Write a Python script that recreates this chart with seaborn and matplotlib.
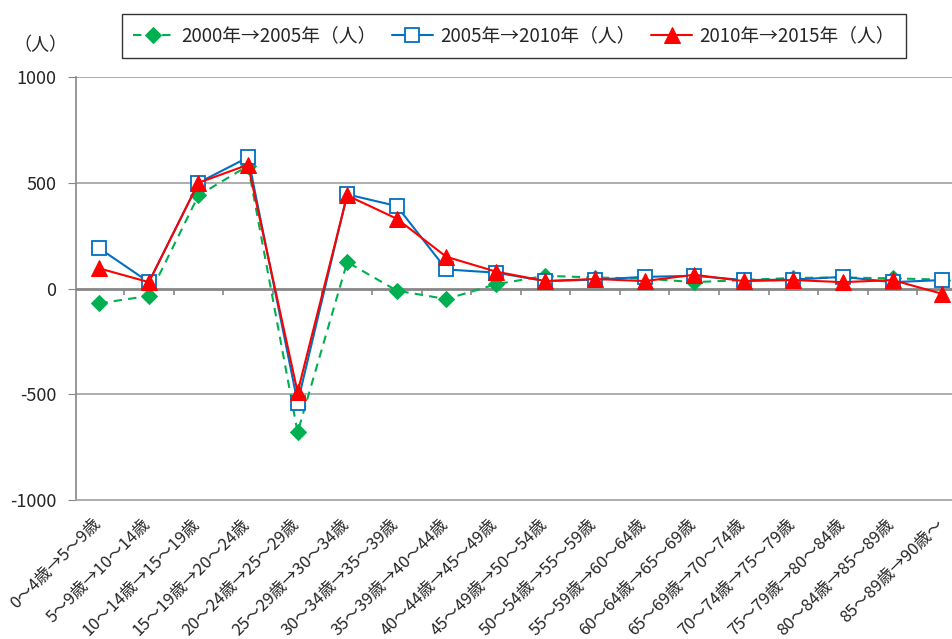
import numpy as np
import pandas as pd
import seaborn as sns
import matplotlib.pyplot as plt
from matplotlib.transforms import ScaledTranslation

categories = [
    "0～4歳→5～9歳", "5～9歳→10～14歳", "10～14歳→15～19歳", "15～19歳→20～24歳",
    "20～24歳→25～29歳", "25～29歳→30～34歳", "30～34歳→35～39歳", "35～39歳→40～44歳",
    "40～44歳→45～49歳", "45～49歳→50～54歳", "50～54歳→55～59歳", "55～59歳→60～64歳",
    "60～64歳→65～69歳", "65～69歳→70～74歳", "70～74歳→75～79歳", "75～79歳→80～84歳",
    "80～84歳→85～89歳", "85～89歳→90歳～",
]
v_2000_2005 = [-70, -35, 440, 580, -680, 125, -10, -50, 20, 60, 52, 47, 30, 40, 50, 52, 48, 42]
v_2005_2010 = [190, 30, 500, 620, -540, 445, 390, 90, 75, 35, 42, 55, 60, 40, 42, 55, 30, 40]
v_2010_2015 = [95, 30, 500, 585, -490, 440, 330, 150, 80, 35, 45, 35, 65, 35, 40, 30, 40, -25]
series_names = ["2000年→2005年（人）", "2005年→2010年（人）", "2010年→2015年（人）"]

sns.set_style("white")
plt.rcParams['font.family'] = ['Noto Sans CJK JP', 'DejaVu Sans']

fig = plt.figure(figsize=(9.52, 6.39), dpi=100)
ax = fig.add_axes([76 / 952, 1 - 500 / 639, 1 - 76 / 952, (500 - 77) / 639])

x = np.arange(len(categories))
df = pd.DataFrame({"x": x, "a": v_2000_2005, "b": v_2005_2010, "c": v_2010_2015})

sns.lineplot(data=df, x="x", y="a", ax=ax, color="#00B050", linestyle=(0, (4, 3)),
             linewidth=1.5, marker="D", markersize=8, markeredgecolor="#00B050",
             label=series_names[0])
sns.lineplot(data=df, x="x", y="b", ax=ax, color="#0070C0", linewidth=1.5,
             marker="s", markersize=10, markerfacecolor="white",
             markeredgecolor="#0070C0", markeredgewidth=1.3, label=series_names[1])
sns.lineplot(data=df, x="x", y="c", ax=ax, color="#FF0000", linewidth=1.5,
             marker="^", markersize=12, markeredgecolor="#FF0000", label=series_names[2])

ax.set_xlim(-0.47, 17.2)
ax.set_ylim(-1000, 1000)
ax.set_yticks([-1000, -500, 0, 500, 1000])
ax.set_yticklabels(["-1000", "-500", "0", "500", "1000"], fontsize=13)
ax.tick_params(axis="y", direction="out", length=6, color="#868686", pad=8, left=True)
for yv in [-500, 500, 1000]:
    ax.axhline(yv, color="#a0a0a0", linewidth=1.2, zorder=0)
ax.axhline(0, color="#868686", linewidth=2, zorder=1)
# category boundary ticks sit on the zero line
ax.vlines(np.arange(len(categories)) + 0.5, -30, 0, color="#868686", linewidth=1.2, zorder=1)

ax.set_xticks(x)
ax.set_xticklabels(categories, rotation=45, ha="right", va="top",
                   rotation_mode="anchor", fontsize=12)
ax.tick_params(axis="x", length=0, pad=4)
shift = ScaledTranslation(-7 / 100, -10 / 100, fig.dpi_scale_trans)
for lbl in ax.get_xticklabels():
    lbl.set_transform(lbl.get_transform() + shift)
ax.set_xlabel("")
ax.set_ylabel("")

for side in ["top", "right"]:
    ax.spines[side].set_visible(False)
ax.spines["left"].set_color("#868686")
ax.spines["bottom"].set_color("#a0a0a0")
ax.spines["left"].set_linewidth(1.2)
ax.spines["bottom"].set_linewidth(1.2)

fig.text(40 / 952, 1 - 45 / 639, "（人）", fontsize=13, ha="center", va="center")

leg = ax.legend(loc="center", bbox_to_anchor=(514 / 952, 1 - 36 / 639),
                bbox_transform=fig.transFigure, ncol=3, frameon=True, fancybox=False,
                fontsize=13.5, handlelength=2.2, handletextpad=0.4,
                columnspacing=0.8, borderpad=0.6)
leg.get_frame().set_edgecolor("black")
leg.get_frame().set_linewidth(1.0)

fig.savefig("out.png", dpi=100)
